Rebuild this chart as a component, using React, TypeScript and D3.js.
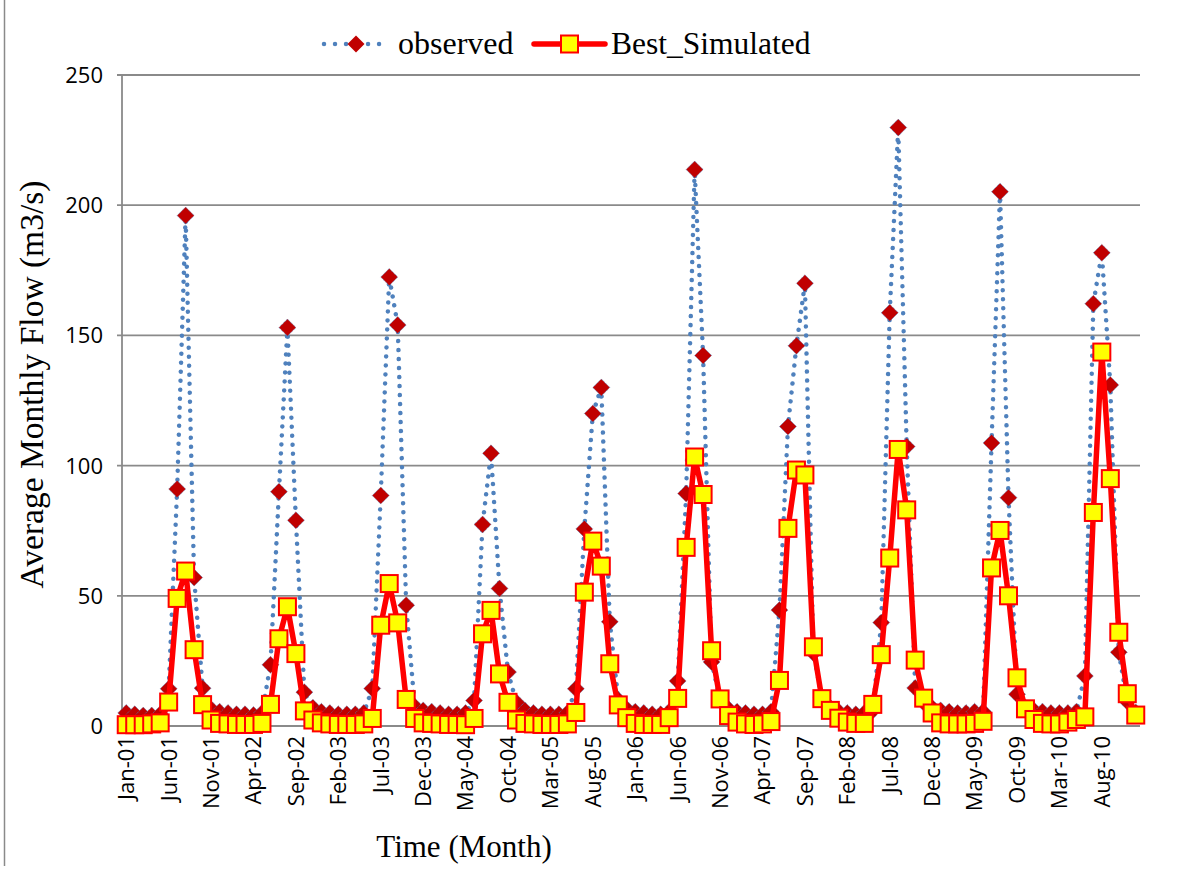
import React from "react";
import * as d3 from "d3";

const monthNames = ["Jan","Feb","Mar","Apr","May","Jun","Jul","Aug","Sep","Oct","Nov","Dec"];
const years = ["01","02","03","04","05","06","07","08","09","10"];
const categories: string[] = years.flatMap((y) => monthNames.map((m) => `${m}-${y}`));

// Observed average monthly flow (m3/s), Jan-01 .. Dec-10
const observed: number[] = [
  5, 4.5, 4, 4, 4.5, 14.3, 91, 196, 57, 14.5, 6.5, 5.5,
  5, 4.5, 4.5, 4.2, 5, 23.5, 90, 153, 79, 13, 7, 5.5,
  5, 4.5, 4.5, 4.5, 5, 14.4, 88.5, 172.4, 154, 46.4, 7.5, 6,
  5.5, 5, 4.5, 4.5, 5, 9.8, 77.4, 104.7, 52.8, 20.7, 9, 6,
  5, 4.5, 4.5, 4.5, 5, 14.3, 75.7, 120, 130, 40, 10, 6.5,
  5.5, 5, 4.5, 4.5, 5.5, 17.3, 89.3, 213.7, 142.3, 24.6, 10, 6.5,
  5.5, 5, 4.5, 4.5, 5.5, 44.5, 115, 146, 170, 28, 11, 7,
  5.5, 5, 4.5, 5, 6, 39.7, 158.7, 229.8, 107.3, 14.6, 9, 7,
  6, 5.5, 5, 5, 5.5, 5.5, 108.7, 205.2, 87.7, 12.2, 7, 6,
  5.5, 5, 5, 5, 5.5, 19.2, 162.2, 181.7, 131, 28.3, 9.4, 5.2,
];

// Best simulated average monthly flow (m3/s)
const simulated: number[] = [
  0.5, 0.5, 0.5, 0.8, 1.2, 9.2, 49, 59.5, 29.3, 8.2, 2.3, 1,
  0.8, 0.6, 0.6, 0.6, 1, 8.3, 33.5, 45.8, 27.8, 5.8, 2.3, 1.2,
  0.8, 0.6, 0.6, 0.6, 0.8, 2.9, 38.7, 54.7, 39.6, 10.2, 2.9, 1.2,
  1, 0.8, 0.6, 0.6, 0.5, 2.9, 35.4, 44.4, 20, 9.1, 2.3, 1,
  0.8, 0.6, 0.6, 0.6, 0.8, 5.2, 51.4, 71, 61.4, 23.9, 8.1, 3.2,
  1, 0.6, 0.6, 0.6, 3.2, 10.6, 68.6, 103.3, 88.9, 28.9, 10.4, 4,
  1.5, 0.8, 0.6, 0.8, 1.7, 17.5, 75.9, 98.3, 96.4, 30.4, 10.5, 6,
  3, 1.5, 1, 1, 8.3, 27.4, 64.5, 106.2, 83, 25.3, 10.7, 5,
  1.2, 0.8, 0.8, 0.8, 1, 1.8, 60.7, 75.1, 50, 18.5, 6.6, 2.5,
  1, 0.8, 0.8, 1.5, 2.5, 3.5, 82, 143.6, 95, 36, 12.4, 4.2,
];

const yTicks: number[] = [0, 50, 100, 150, 200, 250];
const tickEvery = 5;

const W = 1191;
const H = 869;
const plotLeft = 122;
const plotRight = 1140;
const plotTop = 75;
const plotBottom = 726;

const BLUE = "#4F81BD";
const DARKRED = "#C00000";
const RED = "#FF0000";
const YELLOW = "#FFFF00";
const GRID = "#8a8a8a";
const SERIF = "'Liberation Serif', 'Times New Roman', serif";
const SANS = "'Open Sans', 'Liberation Sans', sans-serif";

const diamond = (s: number) => `M0,${-s}L${s},0L0,${s}L${-s},0Z`;

export default function App() {
  const idx = categories.map((_, i) => i);
  const xBand = d3.scaleBand<number>().domain(idx).range([plotLeft, plotRight]).padding(0);
  const cx = (i: number) => (xBand(i) as number) + xBand.bandwidth() / 2;
  const y = d3.scaleLinear().domain([0, 250]).range([plotBottom, plotTop]);

  const lineObs = d3.line<number>().x((_, i) => cx(i)).y((d) => y(d));
  const lineSim = d3.line<number>().x((_, i) => cx(i)).y((d) => y(d));

  return (
    <svg
      width={W}
      height={H}
      style={{ position: "absolute", left: 0, top: 0, background: "#fff" }}
      xmlns="http://www.w3.org/2000/svg"
    >
      <rect x={0} y={0} width={W} height={H} fill="#fff" />
      <line x1={4.5} x2={4.5} y1={0} y2={866} stroke={GRID} strokeWidth={1.5} />

      {/* gridlines */}
      {yTicks.map((t) => (
        <g key={t}>
          <line x1={plotLeft - 5} x2={plotRight} y1={y(t)} y2={y(t)} stroke={GRID} strokeWidth={1.8} />
          <text
            x={103}
            y={y(t)}
            dy="0.36em"
            textAnchor="end"
            fontFamily={SANS}
            fontSize={22}
            fill="#000"
          >
            {t}
          </text>
        </g>
      ))}
      <line x1={plotLeft} x2={plotLeft} y1={plotTop} y2={plotBottom} stroke={GRID} strokeWidth={1.8} />

      {/* x tick labels */}
      {categories.map((c, i) =>
        i % tickEvery === 0 ? (
          <text
            key={c}
            transform={`translate(${cx(i)},${plotBottom + 10}) rotate(-90)`}
            textAnchor="end"
            dy="0.36em"
            fontFamily={SANS}
            fontSize={22}
            fill="#000"
          >
            {c}
          </text>
        ) : null
      )}

      {/* observed series */}
      <path
        d={lineObs(observed) || ""}
        fill="none"
        stroke={BLUE}
        strokeWidth={4.5}
        strokeLinecap="round"
        strokeDasharray="0.01 9"
      />
      {observed.map((v, i) => (
        <path
          key={`o${i}`}
          d={diamond(8.5)}
          transform={`translate(${cx(i)},${y(v)})`}
          fill={DARKRED}
          stroke={BLUE}
          strokeWidth={0.8}
          strokeDasharray="1 1"
        />
      ))}

      {/* simulated series */}
      <path
        d={lineSim(simulated) || ""}
        fill="none"
        stroke={RED}
        strokeWidth={5.5}
        strokeLinejoin="round"
      />
      {simulated.map((v, i) => (
        <rect
          key={`s${i}`}
          x={cx(i) - 8.5}
          y={y(v) - 8.5}
          width={17}
          height={17}
          fill={YELLOW}
          stroke={RED}
          strokeWidth={2}
        />
      ))}

      {/* legend */}
      <g>
        <line x1={324} x2={386} y1={44} y2={44} stroke={BLUE} strokeWidth={4.5} strokeLinecap="round" strokeDasharray="0.01 11" />
        <path d={diamond(8.5)} transform="translate(356,44)" fill={DARKRED} />
        <text x={398} y={54} fontFamily={SERIF} fontSize={32} fill="#000">observed</text>
        <line x1={534} x2={605} y1={44} y2={44} stroke={RED} strokeWidth={5.5} strokeLinecap="round" />
        <rect x={561} y={35.5} width={17} height={17} fill={YELLOW} stroke={RED} strokeWidth={2} />
        <text x={611} y={54} fontFamily={SERIF} fontSize={31.5} fill="#000">Best_Simulated</text>
      </g>

      {/* axis titles */}
      <text
        transform={`translate(43,${(plotTop + plotBottom) / 2 - 16}) rotate(-90)`}
        textAnchor="middle"
        fontFamily={SERIF}
        fontSize={33.5}
        fill="#000"
      >
        Average Monthly Flow (m3/s)
      </text>
      <text x={464} y={857} textAnchor="middle" fontFamily={SERIF} fontSize={31} fill="#000">
        Time (Month)
      </text>
    </svg>
  );
}
